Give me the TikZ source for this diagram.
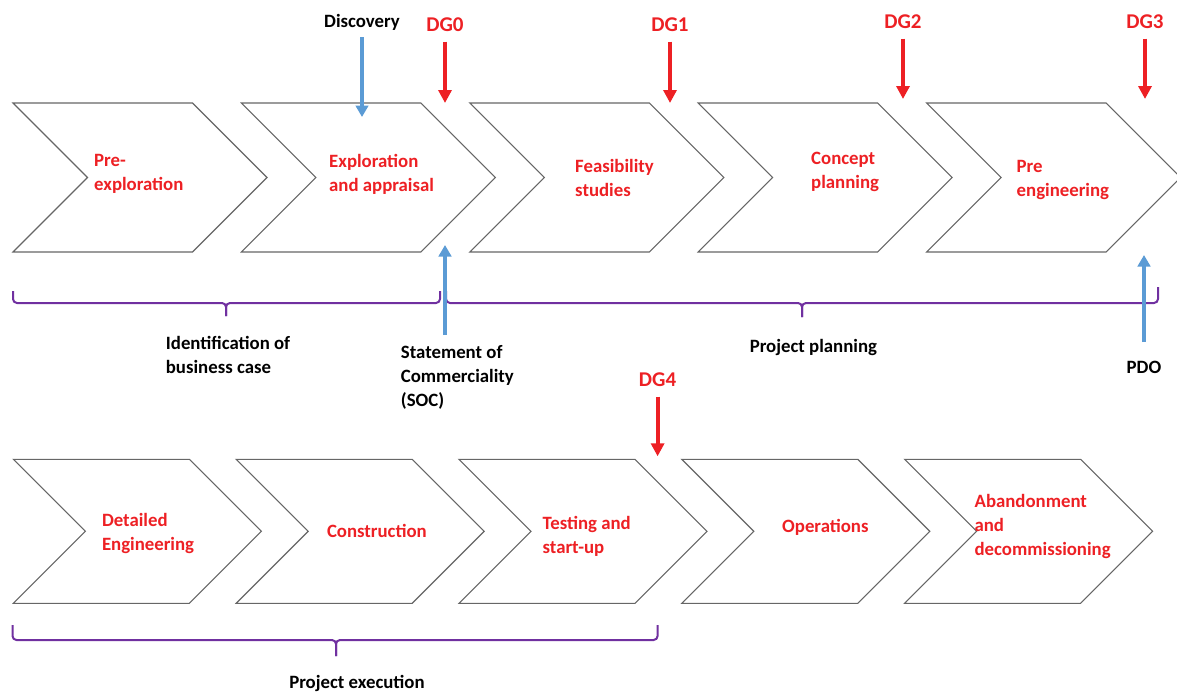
\documentclass[tikz,border=0pt]{standalone}
\usepackage{fontspec}
\setmainfont{Carlito}
\usetikzlibrary{shapes.symbols,arrows.meta,positioning}

\definecolor{gatered}{RGB}{237,32,36}
\definecolor{eventblue}{RGB}{91,155,213}
\definecolor{bracepurple}{RGB}{112,48,160}

\tikzset{
  phase/.style={signal, signal from=west, signal to=east, signal pointer angle=90,
    draw=black!60, line width=1.1pt, minimum width=254pt, minimum height=149pt,
    inner sep=0pt, outer sep=0pt},
  lowphase/.style={phase, minimum width=248pt, minimum height=144pt},
  phasetext/.style={text=gatered, align=left, anchor=west, inner sep=0pt},
  gate/.style={text=gatered, font=\fontsize{21}{25}\selectfont\bfseries, inner sep=0pt},
  milestone/.style={align=left, inner sep=0pt},
  gatearrow/.style={gatered, line width=4pt, shorten <=9.5pt,
    -{Triangle[width=13pt,length=13pt]}},
  eventarrow/.style={eventblue, line width=4.6pt, -{Triangle[width=12.5pt,length=11.5pt]}},
  phasebrace/.style={bracepurple, line width=2pt, rounded corners=4pt}
}

\begin{document}
\begin{tikzpicture}[x=1pt, y=-1pt, font=\fontsize{18.8}{24}\selectfont\bfseries]
    \useasboundingbox (0,0) rectangle (1177,693);

    % Fasi in alto
    \node[phase] (c1) at (140,177.5) {};
    \node[phase] (c2) at (368.4,177.5) {};
    \node[phase] (c3) at (596.8,177.5) {};
    \node[phase] (c4) at (825.2,177.5) {};
    \node[phase] (c5) at (1053.6,177.5) {};

    \node[phasetext] at (94,174) {Pre-\\exploration};
    \node[phasetext] at (329,174) {Exploration\\and appraisal};
    \node[phasetext] at (575,177.5) {Feasibility\\studies};
    \node[phasetext] at (811,172) {Concept\\planning};
    \node[phasetext] at (1016.5,180) {Pre\\engineering};

    % Fasi in basso
    \node[lowphase] (d1) at (137.4,531.3) {};
    \node[lowphase] (d2) at (360.2,531.3) {};
    \node[lowphase] (d3) at (583,531.3) {};
    \node[lowphase] (d4) at (805.8,531.3) {};
    \node[lowphase] (d5) at (1028.6,531.3) {};

    \node[phasetext] at (101.8,533.7) {Detailed\\Engineering};
    \node[phasetext] at (326.8,530.7) {Construction};
    \node[phasetext] at (542.4,536) {Testing and\\start-up};
    \node[phasetext] at (782,527.3) {Operations};
    \node[phasetext] at (974.4,526.5) {Abandonment\\and\\decommissioning};

    % Decision gates
    \node[gate] (dg0) at (445,25) {DG0};
    \node[gate] (dg1) at (670,25) {DG1};
    \node[gate] (dg2) at (903,22) {DG2};
    \node[gate] (dg3) at (1145,22) {DG3};
    \node[gate] (dg4) at (657.6,380) {DG4};

    \draw[gatearrow] (dg0) -- (dg0 |- c2.north);
    \draw[gatearrow] (dg1) -- (dg1 |- c3.north);
    \draw[gatearrow, shorten >=4pt] (dg2) -- (dg2 |- c4.north);
    \draw[gatearrow, shorten >=4pt] (dg3) -- (dg3 |- c5.north);
    \draw[gatearrow, shorten >=3pt] (dg4) -- (dg4 |- d3.north);

    % Parentesi
    \draw[phasebrace] (13,291) |- (226,303) -- (226,316);
    \draw[phasebrace] (440,291) |- (226,303) -- (226,316);
    \draw[phasebrace] (446,291) |- (802,303) -- (802,317);
    \draw[phasebrace] (1158,287) |- (802,303) -- (802,317);
    \draw[phasebrace] (12.5,625) |- (336,640) -- (336,656);
    \draw[phasebrace] (657.6,625) |- (336,640) -- (336,656);

    % Etichette
    \node[milestone] (disc) at (362,22.5) {Discovery};
    \node[milestone, anchor=west] (idbc) at (165.7,355) {Identification of\\business case};
    \node[milestone, anchor=west] (soc) at (400.7,377) {Statement of\\Commerciality\\(SOC)};
    \node[milestone] (plan) at (813.4,347) {Project planning};
    \node[milestone] (pdo) at (1144,367) {PDO};
    \node[milestone] (exec) at (357,683) {Project execution};

    % Eventi
    \coordinate (disctip) at (362,117);
    \coordinate (socfoot) at (445,335);
    \coordinate (soctip) at (445,245);
    \coordinate (pdofoot) at (1144,342);
    \coordinate (pdotip) at (1144,255);
    \draw[eventarrow, shorten <=6.5pt] (disc) -- (disctip);
    \draw[eventarrow] (socfoot) -- (soctip);
    \draw[eventarrow] (pdofoot) -- (pdotip);

\end{tikzpicture}
\end{document}
